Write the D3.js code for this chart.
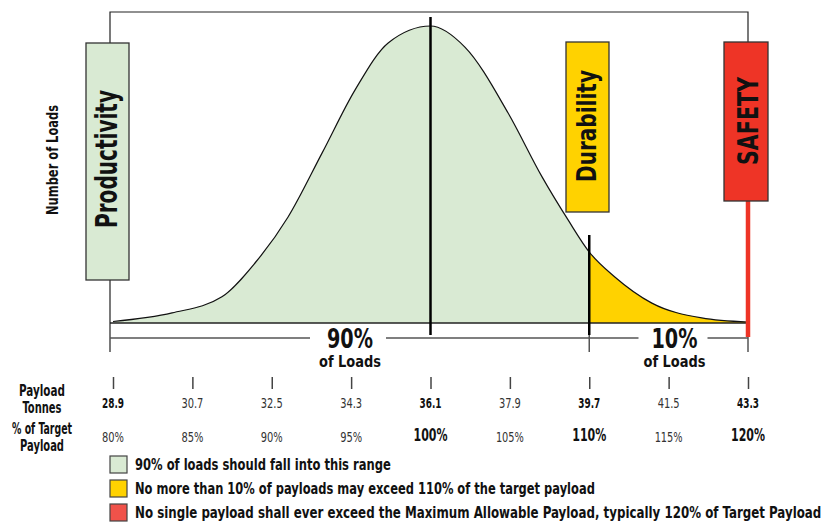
<!DOCTYPE html>
<html>
<head>
<meta charset="utf-8">
<script src="https://cdn.jsdelivr.net/npm/d3@7"></script>
<style>
  body { margin: 0; background: #fff; }
  svg text {
    font-family: "Liberation Sans Narrow", "Arial Narrow", "DejaVu Sans Condensed", "Roboto", sans-serif;
    font-weight: bold;
    fill: #111;
  }
</style>
</head>
<body>
<svg id="chart" width="825" height="525"></svg>
<script>
// payload axis
var tonnes = [28.9, 30.7, 32.5, 34.3, 36.1, 37.9, 39.7, 41.5, 43.3];
var pctLabels = ["80%", "85%", "90%", "95%", "100%", "105%", "110%", "115%", "120%"];
var keyTonnes = [28.9, 36.1, 39.7, 43.3];
var keyPct = ["100%", "110%", "120%"];

// distribution of loads (relative height, peak = 100)
var curveTonnes = [28.9, 30.24, 31.37, 32.12, 32.87, 33.64, 34.39, 35.14, 36.1, 36.88, 37.86, 38.63, 39.22, 39.7, 40.28, 41.12, 42.25, 43.3];
var curveLoads  = [0.5, 3.4, 8.8, 20.2, 35.7, 57.2, 78.5, 94.3, 100, 92.9, 70.7, 49.2, 34.7, 23.9, 15.5, 6.7, 1.7, 0.3];

var targetTonnes = 36.1, durabilityTonnes = 39.7, safetyTonnes = 43.3;

var zones = ["Productivity", "Durability", "SAFETY"];
var shares = [["90%", "of Loads"], ["10%", "of Loads"]];
var rowHeaders = ["Payload", "Tonnes", "% of Target", "Payload"];
var legendLabels = [
  "90% of loads should fall into this range",
  "No more than 10% of payloads may exceed 110% of the target payload",
  "No single payload shall ever exceed the Maximum Allowable Payload, typically 120% of Target Payload"
];

var GREEN = "#d9ead3", YELLOW = "#ffd200", RED = "#ee3426", LEGEND_RED = "#f0524a";

var svg = d3.select("#chart");
var x = d3.scaleLinear().domain([28.9, 43.3]).range([113, 748]);
var y = d3.scaleLinear().domain([0, 100]).range([323, 26]);
var base = y(0), frameLeft = 110;

var pts = curveTonnes.map(function (t, i) { return [t, curveLoads[i]]; });

// squeeze a text into a given width
function fit(sel, w) {
    return sel.attr("textLength", w).attr("lengthAdjust", "spacingAndGlyphs");
}

// frame
svg.append("path")
    .attr("d", "M" + frameLeft + ",43V12H" + x(safetyTonnes) + "V42M" + frameLeft + ",280V352")
    .attr("fill", "none").attr("stroke", "#222").attr("stroke-width", 1.2);

// curve areas
var area = d3.area().curve(d3.curveMonotoneX)
    .x(function (d) { return x(d[0]); })
    .y0(base).y1(function (d) { return y(d[1]); });
var line = d3.line().curve(d3.curveMonotoneX)
    .x(function (d) { return x(d[0]); })
    .y(function (d) { return y(d[1]); });

svg.append("clipPath").attr("id", "tail")
  .append("rect").attr("x", x(durabilityTonnes)).attr("y", 0)
    .attr("width", 300).attr("height", base + 1);

svg.append("path").datum(pts).attr("d", area).attr("fill", GREEN);
svg.append("path").datum(pts).attr("d", area).attr("fill", YELLOW).attr("clip-path", "url(#tail)");
svg.append("path").datum(pts).attr("d", line).attr("fill", "none").attr("stroke", "#111").attr("stroke-width", 1.2);

// baseline
svg.append("line").attr("x1", frameLeft).attr("x2", x(safetyTonnes))
    .attr("y1", base).attr("y2", base).attr("stroke", "#222").attr("stroke-width", 1.5);

// mean + 110% markers
svg.append("line").attr("x1", x(targetTonnes)).attr("x2", x(targetTonnes))
    .attr("y1", 17).attr("y2", 335).attr("stroke", "#000").attr("stroke-width", 2.5);
svg.append("line").attr("x1", x(durabilityTonnes)).attr("x2", x(durabilityTonnes))
    .attr("y1", 235).attr("y2", 335).attr("stroke", "#000").attr("stroke-width", 2.5);

// range bracket line with gaps for the labels
var bracketY = 338;
var shareCentres = [350, 674.5];
var segs = [[frameLeft, shareCentres[0] - 40], [shareCentres[0] + 36, shareCentres[1] - 36], [shareCentres[1] + 33, x(safetyTonnes)]];
svg.selectAll(".seg").data(segs).enter().append("line")
    .attr("x1", function (d) { return d[0]; }).attr("x2", function (d) { return d[1]; })
    .attr("y1", bracketY).attr("y2", bracketY)
    .attr("stroke", "#555").attr("stroke-width", 1.5);
[durabilityTonnes, safetyTonnes].forEach(function (t) {
    svg.append("line").attr("x1", x(t)).attr("x2", x(t)).attr("y1", 335).attr("y2", 352)
        .attr("stroke", "#555").attr("stroke-width", 1.5);
});

// safety limit line
svg.append("line").attr("x1", x(safetyTonnes)).attr("x2", x(safetyTonnes))
    .attr("y1", 200).attr("y2", 337).attr("stroke", RED).attr("stroke-width", 4.5);

// zone boxes
var boxes = [
  { x0: 86, x1: 129, y0: 43, y1: 280, fill: GREEN, size: 30, len: 138, base: 117, cy: 159 },
  { x0: 566, x1: 609, y0: 42, y1: 212, fill: YELLOW, size: 27, len: 112, base: 596, cy: 126 },
  { x0: 724, x1: 768, y0: 42, y1: 201, fill: RED, size: 29, len: 88, base: 758, cy: 121 }
];
boxes.forEach(function (b, i) {
    svg.append("rect").attr("x", b.x0).attr("y", b.y0)
        .attr("width", b.x1 - b.x0).attr("height", b.y1 - b.y0)
        .attr("fill", b.fill).attr("stroke", "#333").attr("stroke-width", 1.3);
    fit(svg.append("text")
        .attr("transform", "translate(" + b.base + "," + b.cy + ") rotate(-90)")
        .attr("text-anchor", "middle").style("font-size", b.size + "px"), b.len)
        .text(zones[i]);
});

// share labels
shares.forEach(function (s, i) {
    fit(svg.append("text").attr("x", shareCentres[i]).attr("y", 348)
        .attr("text-anchor", "middle").style("font-size", "26px"), 46).text(s[0]);
    fit(svg.append("text").attr("x", shareCentres[i]).attr("y", 367)
        .attr("text-anchor", "middle").style("font-size", "16px"), 62).text(s[1]);
});

// y label
fit(svg.append("text").attr("transform", "translate(58,160) rotate(-90)")
    .attr("text-anchor", "middle").style("font-size", "15px"), 110)
    .text("Number of Loads");

// payload tick marks
var axis = d3.axisBottom(x).tickValues(tonnes).tickSize(12).tickFormat("");
var ax = svg.append("g").attr("transform", "translate(0,377)").call(axis);
ax.select(".domain").remove();
ax.selectAll(".tick line").attr("stroke", "#444").attr("stroke-width", 1.5);

// tonnes row
svg.selectAll(".tonne").data(tonnes).enter().append("text")
    .attr("x", function (d) { return x(d); }).attr("y", 408)
    .attr("text-anchor", "middle").style("font-size", "14px")
    .style("font-weight", function (d) { return keyTonnes.indexOf(d) >= 0 ? "bold" : "normal"; })
    .style("fill", function (d) { return keyTonnes.indexOf(d) >= 0 ? "#111" : "#333"; })
    .attr("textLength", 22).attr("lengthAdjust", "spacingAndGlyphs")
    .text(function (d) { return d.toFixed(1); });

// percent row
svg.selectAll(".pct").data(pctLabels).enter().append("text")
    .attr("x", function (d, i) { return x(tonnes[i]); })
    .attr("y", function (d) { return keyPct.indexOf(d) >= 0 ? 441 : 442; })
    .attr("text-anchor", "middle")
    .style("font-size", function (d) { return keyPct.indexOf(d) >= 0 ? "17px" : "14px"; })
    .style("font-weight", function (d) { return keyPct.indexOf(d) >= 0 ? "bold" : "normal"; })
    .style("fill", function (d) { return keyPct.indexOf(d) >= 0 ? "#111" : "#333"; })
    .attr("textLength", function (d) { return keyPct.indexOf(d) >= 0 ? 34 : (d.length > 3 ? 28 : 22); })
    .attr("lengthAdjust", "spacingAndGlyphs")
    .text(function (d) { return d; });

// row headers
var headerY = [396, 413, 434, 451], headerW = [46, 39, 60, 44];
rowHeaders.forEach(function (h, i) {
    fit(svg.append("text").attr("x", 42).attr("y", headerY[i]).attr("text-anchor", "middle")
        .style("font-size", "15px"), headerW[i]).text(h);
});

// legend (texts squeezed horizontally with a scale so they stay inside the page)
var legendLens = [256, 460, 687];
var legendColors = [GREEN, YELLOW, LEGEND_RED];
var legendTops = [456, 480, 504];
legendLabels.forEach(function (l, i) {
    var top = legendTops[i];
    svg.append("rect").attr("x", 110).attr("y", top).attr("width", 17).attr("height", 17)
        .attr("fill", legendColors[i]).attr("stroke", "#444").attr("stroke-width", 1.2);
    var t = svg.append("text").style("font-size", "16px").text(l);
    var natural = t.node().getComputedTextLength();
    t.attr("transform", "translate(135," + (top + 14) + ") scale(" + (legendLens[i] / natural) + ",1)");
});
</script>
</body>
</html>
